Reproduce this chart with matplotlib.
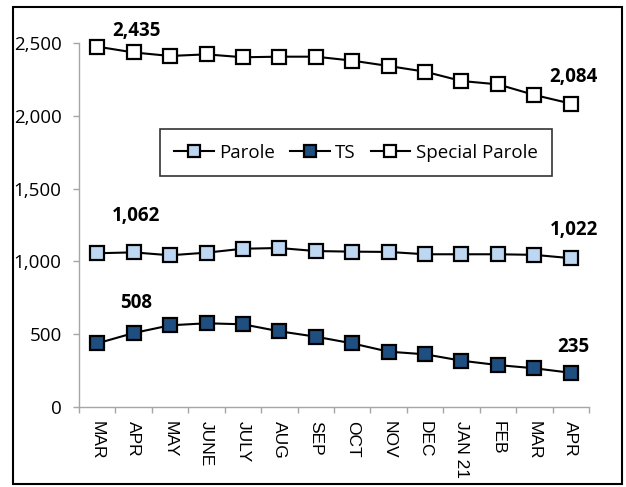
import matplotlib
matplotlib.use("Agg")
import matplotlib.pyplot as plt
from matplotlib.patches import Rectangle
from matplotlib.ticker import FuncFormatter, FixedLocator

months = ["MAR", "APR", "MAY", "JUNE", "JULY", "AUG", "SEP", "OCT",
          "NOV", "DEC", "JAN 21", "FEB", "MAR", "APR"]

parole = [1056, 1062, 1042, 1060, 1087, 1092, 1071, 1067, 1065, 1049, 1049, 1049, 1045, 1022]
ts = [437, 508, 561, 575, 568, 520, 483, 437, 380, 362, 318, 288, 266, 235]
special = [2475, 2435, 2411, 2422, 2402, 2406, 2406, 2379, 2342, 2303, 2239, 2216, 2143, 2084]

# labelled points: (series, index)
labelled = [(special, 1), (special, 13), (parole, 1), (parole, 13), (ts, 1), (ts, 13)]
label_offsets = [21, 27, 36, 28, 30, 26]  # pixels above marker

plt.rcParams["font.family"] = ["Open Sans", "DejaVu Sans"]

fig = plt.figure(figsize=(6.26, 4.87), dpi=100)
ax = fig.add_axes([79 / 626, 1 - 407 / 487, 510 / 626, 364 / 487])

x = list(range(len(months)))
style = dict(color="black", lw=1.5, marker="s", markersize=10.5,
             markeredgecolor="black", markeredgewidth=1.6, clip_on=False, zorder=3)
ax.plot(x, parole, markerfacecolor="#BDD7F2", label="Parole", **style)
ax.plot(x, ts, markerfacecolor="#1F4E80", label="TS", **style)
ax.plot(x, special, markerfacecolor="white", label="Special Parole", **style)

for (series, i), off in zip(labelled, label_offsets):
    ax.annotate(f"{series[i]:,}", (x[i], series[i]), xytext=(2, off * 0.72),
                textcoords="offset points", ha="center", va="center",
                fontsize=13.5, fontweight="bold")

ax.set_xlim(-0.5, len(months) - 0.5)
ax.set_ylim(0, 2500)
ax.set_yticks(range(0, 2501, 500))
ax.yaxis.set_major_formatter(FuncFormatter(lambda v, p: f"{v:,.0f}"))

ax.set_xticks(x)
ax.set_xticklabels(months, rotation=-90, family=["Liberation Sans"], fontsize=12.5)
ax.xaxis.set_minor_locator(FixedLocator([i - 0.5 for i in range(len(months) + 1)]))
ax.tick_params(axis="x", which="major", length=0, pad=10)
ax.tick_params(axis="x", which="minor", length=4.5, width=1, color="#A6A6A6")
ax.tick_params(axis="y", length=4.5, width=1, color="#A6A6A6", pad=8, labelsize=13.5)

for s in ["top", "right"]:
    ax.spines[s].set_visible(False)
for s in ["left", "bottom"]:
    ax.spines[s].set_color("#A6A6A6")
    ax.spines[s].set_linewidth(1)

leg = ax.legend(loc="center", ncol=3, bbox_to_anchor=(356 / 626, 1 - 152.5 / 487),
                bbox_transform=fig.transFigure, fontsize=13.5, frameon=True,
                fancybox=False, edgecolor="black", handlelength=2.1,
                handletextpad=0.3, columnspacing=0.8, markerscale=0.8,
                borderpad=0.75)
leg.get_frame().set_linewidth(1.2)

fig.patches.append(Rectangle((13 / 626, 1 - 484 / 487), 609 / 626, 477 / 487,
                             transform=fig.transFigure, fill=False,
                             edgecolor="black", linewidth=1.5))

fig.savefig("out.png", dpi=100)
